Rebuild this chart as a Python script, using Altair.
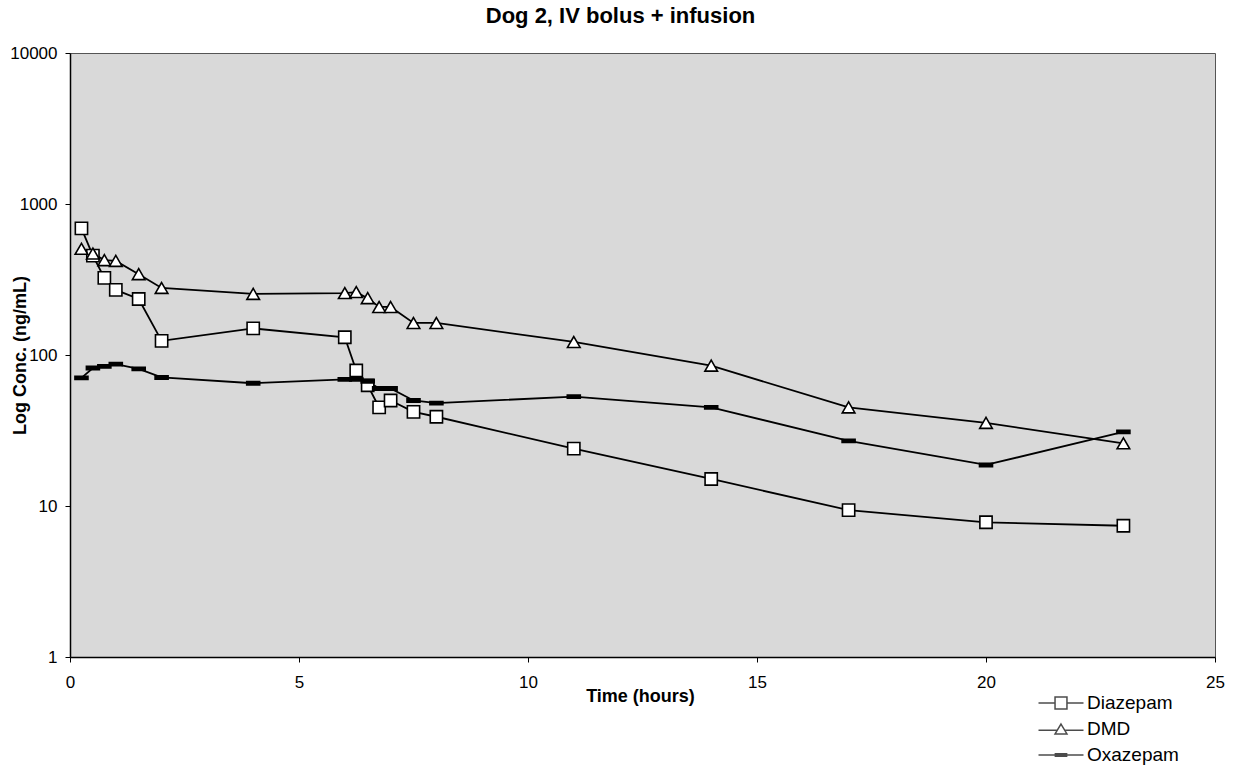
import altair as alt
import pandas as pd

# ---- data ----
time_h = [0.25, 0.5, 0.75, 1, 1.5, 2, 4, 6, 6.25, 6.5, 6.75, 7, 7.5, 8, 11, 14, 17, 20, 23]
diazepam = [690, 455, 324, 270, 235, 124, 150, 131, 79, 63, 45, 50, 42, 39, 24, 15.1, 9.4, 7.8, 7.4]
dmd = [505, 470, 425, 420, 343, 278, 254, 257, 261, 238, 208, 208, 163, 163, 122, 85, 45, 35.5, 26]
oxazepam = [70.5, 82, 84, 87, 81, 71, 65, 69, 69, 67, 60, 60, 50, 48, 53, 45, 27, 18.7, 31]
series_names = ["Diazepam", "DMD", "Oxazepam"]
y_ticks = [1, 10, 100, 1000, 10000]
x_ticks = [0, 5, 10, 15, 20, 25]

rows = []
for name, vals in zip(series_names, [diazepam, dmd, oxazepam]):
    for t, v in zip(time_h, vals):
        rows.append({"series": name, "time": t, "conc": v})
df = pd.DataFrame(rows)

W, H = 1145, 604
FONT = "Liberation Sans"

x_enc = alt.X(
    "time:Q",
    scale=alt.Scale(domain=[0, 25], nice=False, zero=False),
    axis=alt.Axis(
        values=x_ticks, title="Time (hours)", grid=False,
        tickSize=5, labelPadding=12, labelFontSize=17, labelFont=FONT,
        titleFont=FONT, titleFontSize=18, titleFontWeight="bold",
        titleBaseline="top", titleY=30, titleX=570,
        domainColor="black", domainWidth=1.5, tickColor="black", labelColor="black",
        titleColor="black", labelFlush=False,
    ),
)
y_enc = alt.Y(
    "conc:Q",
    scale=alt.Scale(type="log", domain=[1, 10000], nice=False),
    axis=alt.Axis(
        values=y_ticks, format="d", title="Log Conc. (ng/mL)", grid=False,
        tickSize=5, labelPadding=8, labelFontSize=17, labelFont=FONT,
        titleFont=FONT, titleFontSize=18, titleFontWeight="bold",
        titleX=-41, titleY=H / 2, titleAngle=270, titleBaseline="bottom",
        domainColor="black", domainWidth=1.5, tickColor="black", labelColor="black",
        titleColor="black", labelFlush=False,
    ),
)

DASH = "M-1,-0.25H1V0.25H-1Z"
base = alt.Chart(df)

lines = base.mark_line(color="black", strokeWidth=1.8).encode(
    x=x_enc, y=y_enc, detail="series:N", order="time:Q"
)

markers = base.mark_point(filled=True, stroke="black", strokeWidth=1.6, opacity=1).encode(
    x=x_enc,
    y=y_enc,
    shape=alt.Shape("series:N", scale=alt.Scale(domain=series_names,
                    range=["square", "triangle-up", DASH]), legend=None),
    fill=alt.Fill("series:N", scale=alt.Scale(domain=series_names,
                  range=["white", "white", "black"]), legend=None),
    size=alt.Size("series:N", scale=alt.Scale(domain=series_names,
                  range=[150, 169, 144]), legend=None),
)

LEG_SQ = "M-2,0H-0.53M-0.53,-0.53H0.53V0.53H-0.53ZM0.53,0H2"
LEG_TRI = "M-2,0.1H-0.33M0,-0.44L0.53,0.44H-0.53ZM0.33,0.1H2"
LEG_DASH = "M-2,0H2M-0.5,-0.12H0.5V0.12H-0.5Z"

legend_layer = base.transform_filter("false").mark_point(
    filled=False, color="black", strokeWidth=1.5
).encode(
    x=x_enc,
    y=y_enc,
    shape=alt.Shape(
        "series:N",
        scale=alt.Scale(domain=series_names, range=[LEG_SQ, LEG_TRI, LEG_DASH]),
        legend=alt.Legend(
            title=None, orient="none", legendX=979, legendY=638,
            symbolSize=506, labelFontSize=19, labelFont=FONT, labelColor="black",
            labelOffset=14, rowPadding=4, padding=0,
            symbolStrokeColor="black", symbolStrokeWidth=1.5,
        ),
    ),
)

chart = (
    alt.layer(lines, markers, legend_layer)
    .resolve_scale(shape="independent")
    .properties(
        width=W,
        height=H,
        autosize=alt.AutoSizeParams(type="none"),
        padding={"left": 70, "top": 53, "right": 21, "bottom": 117},
        title=alt.TitleParams(
            "Dog 2, IV bolus + infusion", font=FONT, fontSize=22, fontWeight="bold",
            color="black", anchor="middle", offset=16, dx=-22,
        ),
        background="white",
    )
    .configure_view(fill="#d9d9d9", stroke="#555555", strokeWidth=1)
)

chart.save("out.html", embed_options={"renderer": "svg", "actions": False})
